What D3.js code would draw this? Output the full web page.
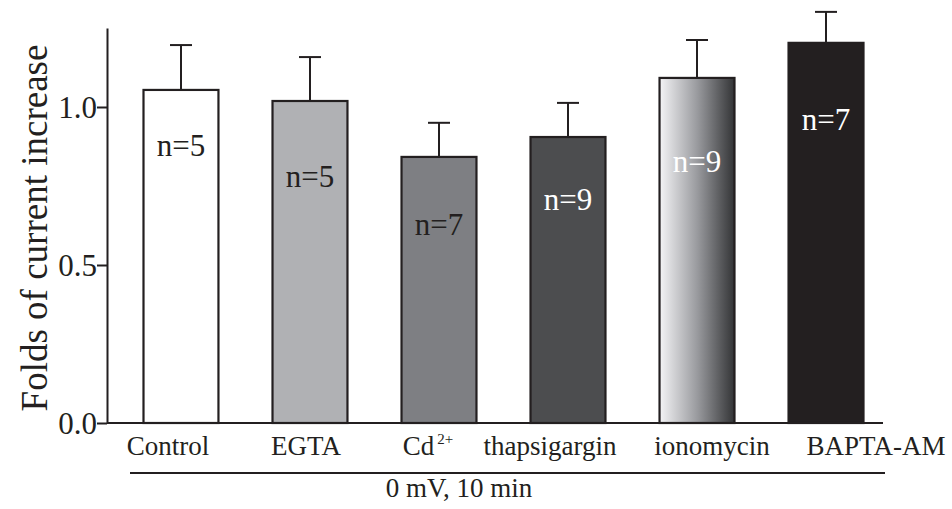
<!DOCTYPE html>
<html>
<head>
<meta charset="utf-8">
<script src="https://cdn.jsdelivr.net/npm/d3@7"></script>
<style>
  body { margin: 0; background: #fff; }
  svg text { font-family: "Liberation Serif", "Times New Roman", serif; }
</style>
</head>
<body>
<div id="chart"></div>
<script>
const WIDTH = 952
const HEIGHT = 509

// data
const groups = ["Control", "EGTA", "Cd", "thapsigargin", "ionomycin", "BAPTA-AM"]
const means = [1.054, 1.019, 0.842, 0.905, 1.092, 1.203]
const errors = [0.142, 0.139, 0.108, 0.108, 0.120, 0.098]
const counts = [5, 5, 7, 9, 9, 7]
const yTicks = [0.0, 0.5, 1.0]

const INK = "#231f20"
const SERIF = "'Liberation Serif', 'Times New Roman', serif"
const fills = ["#ffffff", "#b0b1b4", "#7e7f83", "#4c4d4f", "url(#iono)", "#231f20"]
const nColor = [INK, INK, INK, "#ffffff", "#ffffff", "#ffffff"]
// hand placement tweaks for text (px)
const labelShift = [-13, -4, -11, -18, 15, 50]
const nDrop = [66, 86, 78, 73, 94, 87]

let svg = d3.select("#chart")
    .append("svg")
    .attr("width", WIDTH)
    .attr("height", HEIGHT)
    .attr("font-family", SERIF)

let defs = svg.append("defs")
let grad = defs.append("linearGradient")
    .attr("id", "iono")
    .attr("x1", "0%").attr("x2", "100%")
    .attr("y1", "0%").attr("y2", "0%")
grad.append("stop").attr("offset", "0%").attr("stop-color", "#f4f4f6")
grad.append("stop").attr("offset", "50%").attr("stop-color", "#9a9b9f")
grad.append("stop").attr("offset", "100%").attr("stop-color", "#333436")

let y = d3.scaleLinear().domain([0, 1.25]).range([423, 28])
let x = d3.scaleBand()
    .domain(groups)
    .range([143.5, 863.5])
    .paddingInner(0.419)
    .paddingOuter(0)

// y axis
let yAxis = svg.append("g")
    .attr("transform", "translate(107,0)")
    .call(d3.axisLeft(y).tickValues(yTicks).tickFormat(d3.format(".1f")).tickSize(10).tickSizeOuter(0))
yAxis.attr("font-family", SERIF).attr("font-size", null)
yAxis.select(".domain").attr("stroke", INK).attr("stroke-width", 2)
yAxis.selectAll(".tick line").attr("stroke", INK).attr("stroke-width", 2)
yAxis.selectAll(".tick text")
    .attr("x", -10)
    .attr("dy", "0.34em")
    .style("font-size", "31px")
    .style("font-family", SERIF)
    .style("fill", INK)

svg.append("text")
    .attr("transform", "translate(34,228) rotate(-90)")
    .attr("text-anchor", "middle")
    .attr("dy", "0.35em")
    .style("font-size", "37px")
    .style("fill", INK)
    .text("Folds of current increase")

let bars = svg.selectAll(".bar")
    .data(groups)
    .enter()
    .append("g")
    .attr("class", "bar")

// error bars
bars.append("line")
    .attr("x1", d => x(d) + x.bandwidth() / 2)
    .attr("x2", d => x(d) + x.bandwidth() / 2)
    .attr("y1", (d, i) => y(means[i]))
    .attr("y2", (d, i) => y(means[i] + errors[i]))
    .attr("stroke", INK)
    .attr("stroke-width", 2)
bars.append("line")
    .attr("x1", d => x(d) + x.bandwidth() / 2 - 11)
    .attr("x2", d => x(d) + x.bandwidth() / 2 + 11)
    .attr("y1", (d, i) => y(means[i] + errors[i]))
    .attr("y2", (d, i) => y(means[i] + errors[i]))
    .attr("stroke", INK)
    .attr("stroke-width", 2)

bars.append("rect")
    .attr("x", d => x(d))
    .attr("y", (d, i) => y(means[i]))
    .attr("width", x.bandwidth())
    .attr("height", (d, i) => y(0) - y(means[i]))
    .attr("fill", (d, i) => fills[i])
    .attr("stroke", INK)
    .attr("stroke-width", 2.2)

bars.append("text")
    .attr("x", d => x(d) + x.bandwidth() / 2)
    .attr("y", (d, i) => y(means[i]) + nDrop[i])
    .attr("text-anchor", "middle")
    .style("font-size", "31px")
    .style("font-family", SERIF)
    .style("fill", (d, i) => nColor[i])
    .text((d, i) => "n=" + counts[i])

// x baseline
svg.append("line")
    .attr("x1", 107).attr("x2", 883)
    .attr("y1", y(0)).attr("y2", y(0))
    .attr("stroke", INK)
    .attr("stroke-width", 2.2)

// category labels
let labels = svg.selectAll(".cat")
    .data(groups)
    .enter()
    .append("text")
    .attr("class", "cat")
    .attr("x", (d, i) => x(d) + x.bandwidth() / 2 + labelShift[i])
    .attr("y", 455)
    .attr("text-anchor", "middle")
    .style("font-size", "27px")
    .style("fill", INK)
labels.each(function(d) {
    let t = d3.select(this)
    if (d === "Cd") {
        t.append("tspan").text("Cd")
        t.append("tspan")
            .attr("dx", 3)
            .attr("dy", -11)
            .style("font-size", "15px")
            .text("2+")
    } else {
        t.text(d)
    }
})

// condition bracket
svg.append("line")
    .attr("x1", 130).attr("x2", 885)
    .attr("y1", 473).attr("y2", 473)
    .attr("stroke", INK)
    .attr("stroke-width", 2)
svg.append("text")
    .attr("x", 459)
    .attr("y", 497)
    .attr("text-anchor", "middle")
    .style("font-size", "27px")
    .style("fill", INK)
    .text("0 mV, 10 min")
</script>
</body>
</html>
